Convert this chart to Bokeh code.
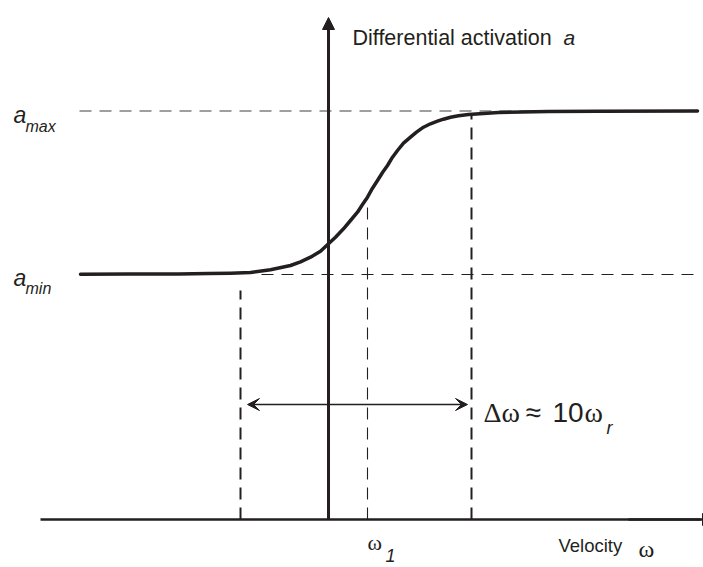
from bokeh.plotting import figure
from bokeh.models import Range1d, Arrow, NormalHead, VeeHead
from bokeh.core.properties import value
from bokeh.embed import file_html
from bokeh.resources import INLINE

# ---- data (schematic units: omega relative to the vertical axis, activation above the omega axis)
curve_w = [-248, -200, -150, -120, -98, -78, -58, -38, -28, -18, -8, 0, 7, 15, 22, 29, 34, 39, 44,
           49, 54, 59, 64, 69, 75, 82, 88, 95, 102, 109, 115, 122, 130, 140, 170, 220, 270, 369]
curve_a = [245.3, 245.4, 245.6, 245.9, 246.3, 247, 249.7, 254, 257.7, 262.3, 268.3, 275.7, 282.3,
           290.7, 299, 307.3, 315, 322.3, 331.3, 339, 347, 354, 362.3, 369, 376.3, 382.3, 387.3,
           392.3, 395.7, 398.3, 400.3, 402.3, 403.7, 405, 407, 408, 408.3, 408.5]
a_min = 245
a_max = 408.5
w_lo = -88     # lower edge of transition band
w_1 = 39       # omega_1
w_hi = 143     # upper edge of transition band
w_left_end = -249
w_right_end = 367

INK = "#231f20"
SANS = value("Liberation Sans")
SERIF = value("Liberation Serif")

p = figure(width=703, height=567, output_backend="svg", toolbar_location=None,
           x_range=Range1d(-328, 375), y_range=Range1d(-48, 519),
           x_axis_type=None, y_axis_type=None, min_border=0)
p.outline_line_color = None
p.xgrid.visible = False
p.ygrid.visible = False
p.background_fill_color = "white"
p.border_fill_color = "white"

# dashed reference lines
p.line([w_left_end, w_right_end - 2], [a_max, a_max], line_color="#808080", line_width=1.3, line_dash="12 8")
p.line([w_right_end - 2, -71], [a_min, a_min], line_color=INK, line_width=1.1, line_dash="12 8")
p.line([w_lo, w_lo], [0, 229], line_color=INK, line_width=2, line_dash="12 8")
p.line([w_1, w_1], [0, 322], line_color=INK, line_width=1.1, line_dash="12 8")
p.line([w_hi, w_hi], [0, 405], line_color=INK, line_width=2, line_dash="12 8")

# sigmoid curve
p.line(curve_w, curve_a, line_color=INK, line_width=3.5, line_join="round", line_cap="round")

# axes as arrows
p.line([-288, 372], [0, 0], line_color=INK, line_width=2.5)
p.add_layout(Arrow(x_start=300, y_start=0, x_end=386, y_end=0, line_color=INK, line_width=2.5,
                   end=NormalHead(size=12, fill_color=INK, line_color=INK)))
p.add_layout(Arrow(x_start=0, y_start=0, x_end=0, y_end=502, line_color=INK, line_width=3,
                   end=NormalHead(size=12, fill_color=INK, line_color=INK)))

# delta-omega double arrow
p.add_layout(Arrow(x_start=w_lo + 7, y_start=115, x_end=w_hi - 4, y_end=115, line_color=INK, line_width=1.6,
                   start=VeeHead(size=12, fill_color=INK, line_color=INK),
                   end=VeeHead(size=12, fill_color=INK, line_color=INK)))

def txt(x, y, s, size, font=SANS, style="normal"):
    p.text(x=[x], y=[y], text=[s], text_font=font, text_font_size=size, text_font_style=style,
           text_color=INK, text_baseline="alphabetic", text_align="left")

txt(24, 482, "Differential activation", "21.5px")
txt(235, 482, "a", "21px", style="italic")
txt(-315, 405, "a", "23px", style="italic")
txt(-303, 393, "max", "16px", style="italic")
txt(-315, 242, "a", "23px", style="italic")
txt(-303, 231, "min", "16px", style="italic")
txt(155, 107, "Δω", "28px", font=SERIF)
txt(197, 107, "≈", "28px")
txt(224, 107, "10", "28px")
txt(256, 107, "ω", "28px", font=SERIF)
txt(278, 92, "r", "18px", style="italic")
txt(39, -23, "ω", "22px", font=SERIF)
txt(57, -36, "1", "18px", style="italic")
txt(230, -26, "Velocity", "18.5px")
txt(310, -29, "ω", "24px", font=SERIF)

open("out.html", "w").write(file_html(p, INLINE))
